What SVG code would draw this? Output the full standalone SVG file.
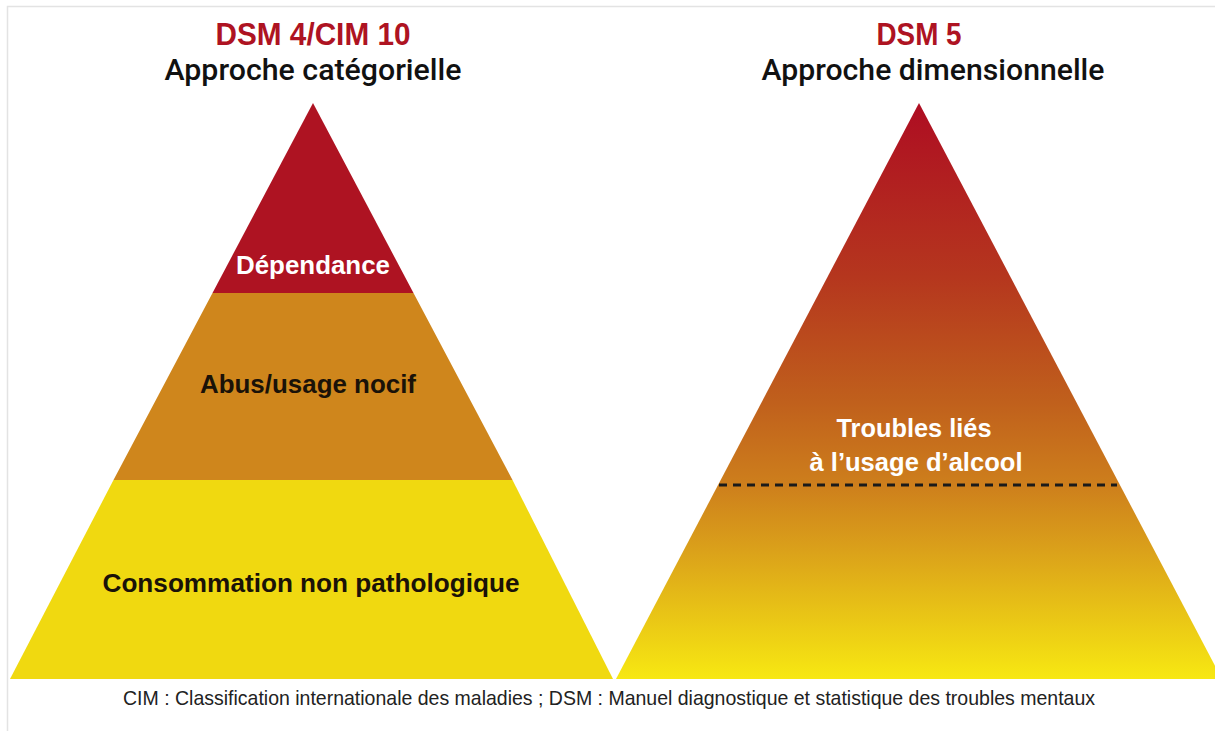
<svg xmlns="http://www.w3.org/2000/svg" width="1215" height="731" viewBox="0 0 1215 731">
<style>
.title{font-family:"Liberation Sans Narrow","Liberation Sans",Arial,sans-serif;font-weight:700;font-size:31px;fill:#ae1322;text-anchor:middle}
.sub{font-family:Roboto,"Liberation Sans",Arial,sans-serif;font-weight:500;font-size:29px;fill:#111;text-anchor:middle}
.lbl{font-family:"Liberation Sans",Arial,sans-serif;font-weight:700;font-size:25px;text-anchor:middle}
.white{fill:#fff}
.dark{fill:#1a1208}
.foot{font-family:"Liberation Sans",Arial,sans-serif;font-size:21px;fill:#222;text-anchor:middle}
</style>
<defs>
<linearGradient id="grad" gradientUnits="userSpaceOnUse" x1="0" y1="103" x2="0" y2="679">
<stop offset="0" stop-color="#ae0d22"/>
<stop offset="0.3" stop-color="#b5361e"/>
<stop offset="0.52" stop-color="#c0601c"/>
<stop offset="0.66" stop-color="#cd7e1c"/>
<stop offset="0.78" stop-color="#dba21a"/>
<stop offset="1" stop-color="#f7e812"/>
</linearGradient>
</defs>
<rect x="0" y="0" width="1215" height="731" fill="#fff"/>
<path d="M7.5 731 V6.5 H1215" fill="none" stroke="#e3e3e3" stroke-width="1.5"/>
<g id="left-title">
<text class="title" x="313" y="45" textLength="195" lengthAdjust="spacingAndGlyphs">DSM 4/CIM 10</text>
<text class="sub" x="313" y="80" textLength="297" lengthAdjust="spacingAndGlyphs">Approche catégorielle</text>
</g>
<g id="right-title">
<text class="title" x="919" y="45" textLength="85" lengthAdjust="spacingAndGlyphs">DSM 5</text>
<text class="sub" x="933" y="80" textLength="343" lengthAdjust="spacingAndGlyphs">Approche dimensionnelle</text>
</g>
<g id="dependance">
<polygon points="313,103 413.5,293 212.5,293" fill="#ae1322"/>
<text class="lbl white" x="313" y="274" textLength="154" lengthAdjust="spacingAndGlyphs">Dépendance</text>
</g>
<g id="abus">
<polygon points="212.5,293 413.5,293 512.5,480 113.5,480" fill="#cf861c"/>
<text class="lbl dark" x="308" y="393" textLength="216" lengthAdjust="spacingAndGlyphs">Abus/usage nocif</text>
</g>
<g id="consommation">
<polygon points="113.5,480 512.5,480 613,679 10,679" fill="#f0d910"/>
<text class="lbl dark" x="311" y="592" textLength="417" lengthAdjust="spacingAndGlyphs">Consommation non pathologique</text>
</g>
<g id="troubles">
<polygon points="919,103 1222,679 616,679" fill="url(#grad)"/>
<text class="lbl white" x="914" y="437" textLength="155" lengthAdjust="spacingAndGlyphs">Troubles liés</text>
<text class="lbl white" x="916" y="471" textLength="213" lengthAdjust="spacingAndGlyphs">à l’usage d’alcool</text>
</g>
<g id="connectors">
<line x1="719" y1="485" x2="1117" y2="485" stroke="#1a1a1a" stroke-width="3" stroke-dasharray="8,6"/>
</g>
<text class="foot" x="609" y="705" textLength="972" lengthAdjust="spacingAndGlyphs">CIM : Classification internationale des maladies ; DSM : Manuel diagnostique et statistique des troubles mentaux</text>
</svg>
